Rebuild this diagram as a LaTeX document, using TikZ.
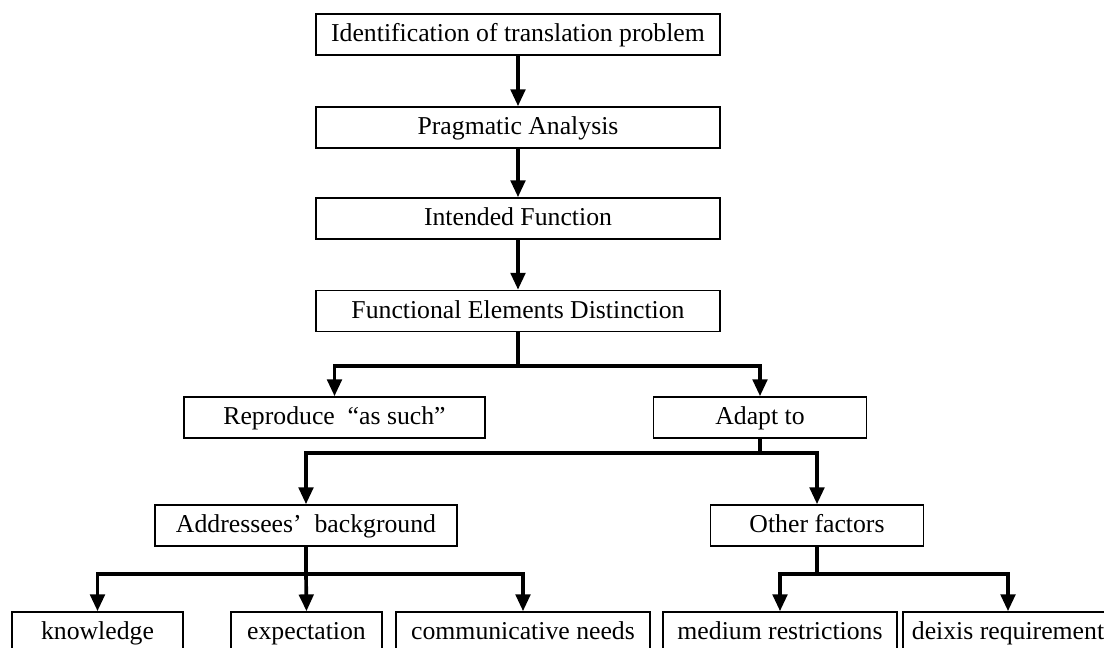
\documentclass[tikz,border=0pt]{standalone}
\usepackage{fontspec}
\setmainfont{Liberation Serif}
\usetikzlibrary{arrows.meta}

\begin{document}
\begin{tikzpicture}[x=.025cm,y=-.025cm,
    font=\fontsize{18.3}{22}\selectfont,
    box/.style={draw,line width=1.1pt,minimum height=1.025cm,inner sep=0pt,
      text height=13pt,text depth=3pt},
    link/.style={line width=2.6pt},
    flow/.style={link,-{Triangle[length=4.2mm,width=3.6mm]}}]
    \useasboundingbox (0,0) rectangle (1104,648);

    % main column
    \node[box,minimum width=10.1cm] (ident) at (518,34.5)
      {Identification of translation problem};
    \node[box,minimum width=10.1cm] (pragma) at (518,127.5)
      {Pragmatic Analysis};
    \node[box,minimum width=10.1cm] (intended) at (518,218.5)
      {Intended Function};
    \node[box,minimum width=10.1cm] (elements) at (518,311)
      {Functional Elements Distinction};
    \draw[flow] (ident) -- (pragma);
    \draw[flow] (pragma) -- (intended);
    \draw[flow] (intended) -- (elements);

    % first split
    \node[box,minimum width=7.525cm] (reproduce) at (334.5,417.5)
      {Reproduce~~“as such”};
    \node[box,minimum width=5.325cm] (adapt) at (760,417.5) {Adapt to};
    \coordinate (split1) at (518,366);
    \draw[link] (elements) -- (split1);
    \draw[flow] (split1) -| (reproduce.north);
    \draw[flow] (split1) -| (adapt.north);

    % what to adapt to
    \node[box,minimum width=7.55cm] (background) at (306,525.5)
      {Addressees’~~background};
    \node[box,minimum width=5.325cm] (other) at (817,525.5) {Other factors};
    \coordinate (split2) at (760,453);
    \draw[link] (adapt) -- (split2);
    \draw[flow] (split2) -| (background.north);
    \draw[flow] (split2) -| (other.north);

    % bottom row
    \node[box,minimum width=4.275cm] (knowledge) at (97.5,632.5) {knowledge};
    \node[box,minimum width=3.775cm] (expectation) at (306.5,632.5) {expectation};
    \node[box,minimum width=6.35cm] (needs) at (523,632.5) {communicative needs};
    \node[box,minimum width=5.85cm] (medium) at (780,632.5) {medium restrictions};
    \node[box,minimum width=5.25cm] (deixis) at (1008,632.5) {deixis requirement};
    \coordinate (split3) at (306,574);
    \coordinate (split4) at (817,574);
    \draw[link] (background) -- (split3);
    \draw[flow] (split3) -| (knowledge.north);
    \draw[flow] (split3) -- (expectation.north);
    \draw[flow] (split3) -| (needs.north);
    \draw[link] (other) -- (split4);
    \draw[flow] (split4) -| (medium.north);
    \draw[flow] (split4) -| (deixis.north);
\end{tikzpicture}
\end{document}
